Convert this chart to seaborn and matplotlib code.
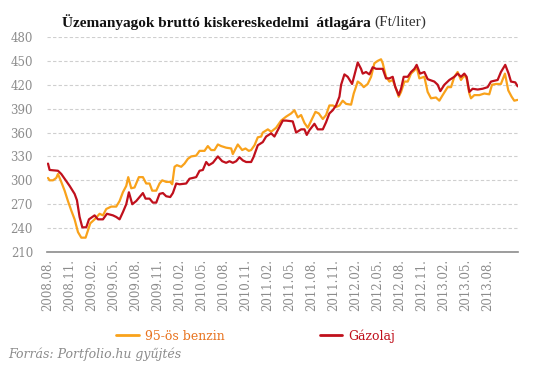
import matplotlib

matplotlib.use("Agg")
import matplotlib.pyplot as plt
import pandas as pd
import seaborn as sns

# x: months elapsed since 2008.08.
benzin_honap = [
    0.05, 0.27, 0.73, 1.18, 1.41, 1.86, 2.32, 2.77, 3.23, 3.68, 4.14, 4.59, 5.18, 5.5,
    5.82, 6.41, 7.09, 7.55, 8.0, 8.68, 9.36, 9.82, 10.27, 10.73, 11.0, 11.41, 11.86,
    12.45, 13.0, 13.45, 13.91, 14.27, 14.82, 15.27, 15.64, 16.18, 16.73, 17.0, 17.32,
    17.64, 18.23, 18.68, 19.14, 19.59, 20.27, 20.73, 21.41, 21.86, 22.32, 22.77, 23.23,
    23.68, 24.36, 25.05, 25.27, 25.95, 26.55, 27.0, 27.45, 27.77, 28.23, 28.68, 29.14,
    29.36, 30.05, 30.5, 31.18, 31.86, 32.55, 33.23, 33.68, 34.14, 34.59, 35.05, 35.5,
    36.18, 36.55, 37.0, 37.55, 38.0, 38.45, 38.91, 39.36, 39.82, 40.27, 40.73, 41.41,
    41.77, 42.32, 42.77, 43.14, 43.68, 44.14, 44.59, 45.05, 45.5, 45.73, 46.18, 46.64,
    47.09, 47.55, 47.91, 48.23, 48.68, 49.14, 49.59, 50.05, 50.36, 50.73, 51.41, 51.86,
    52.32, 53.0, 53.45, 53.91, 54.59, 55.05, 55.5, 55.95, 56.41, 56.86, 57.18, 57.55,
    57.77, 58.23, 58.91, 59.59, 60.27, 60.64, 61.18, 61.86, 62.41, 62.86, 63.32, 63.68,
    64.14,
]
benzin_ar = [
    303, 300, 300, 303, 308, 298, 287, 274, 262, 251, 235, 228, 228, 237,
    246, 251, 258, 256, 264, 267, 267, 274, 285, 293, 304, 290, 291,
    304, 304, 296, 296, 287, 287, 296, 300, 298, 298, 295, 317,
    319, 317, 321, 327, 330, 331, 337, 337, 343, 338, 338, 345,
    343, 341, 340, 333, 345, 338, 340, 337, 338, 344, 354, 355,
    360, 364, 361, 366, 375, 380, 384, 388, 379, 382, 372, 366,
    379, 386, 384, 377, 382, 394, 394, 392, 394, 400, 396, 395,
    409, 424, 421, 417, 421, 430, 447, 450, 452, 447, 430, 424,
    426, 415, 405, 411, 424, 424, 434, 438, 442, 428, 430, 411,
    403, 404, 400, 407, 417, 417, 430, 436, 426, 432, 428, 409,
    403, 407, 407, 409, 408, 420, 421, 421, 434, 413, 405, 400,
    401,
]

gazolaj_honap = [
    0.05, 0.27, 1.41, 1.86, 2.32, 3.0, 3.68, 4.0, 4.36, 4.73, 5.27, 5.64, 6.41, 6.86,
    7.55, 8.09, 8.91, 9.36, 9.82, 10.27, 10.73, 11.09, 11.55, 12.09, 12.55, 13.0,
    13.36, 13.91, 14.36, 14.82, 15.27, 15.73, 16.18, 16.73, 17.09, 17.55, 18.0, 18.91,
    19.36, 20.27, 20.73, 21.18, 21.64, 22.0, 22.55, 23.23, 23.82, 24.36, 24.82, 25.27,
    25.73, 26.18, 26.64, 27.09, 27.77, 28.09, 28.68, 29.36, 29.82, 30.5, 30.95, 31.41,
    32.09, 32.55, 33.45, 33.91, 34.59, 35.05, 35.36, 35.73, 36.41, 36.86, 37.55, 38.0,
    38.45, 38.91, 39.36, 39.82, 40.05, 40.5, 40.95, 41.55, 41.86, 42.32, 42.77, 43.0,
    43.45, 43.91, 44.36, 44.82, 45.73, 46.18, 46.64, 47.09, 47.45, 47.91, 48.23, 48.59,
    49.14, 49.59, 50.05, 50.36, 50.82, 51.41, 51.86, 52.77, 53.23, 53.59, 54.14, 54.82,
    55.5, 55.95, 56.41, 56.86, 57.18, 57.55, 58.0, 58.68, 59.36, 60.05, 60.5, 60.95,
    61.41, 61.86, 62.45, 62.91, 63.23, 63.82, 64.14,
]
gazolaj_ar = [
    321, 313, 312, 308, 302, 293, 283, 275, 254, 241, 241, 251, 256, 251,
    251, 258, 256, 254, 251, 260, 270, 285, 270, 274, 279, 284,
    277, 277, 272, 272, 283, 284, 280, 279, 284, 296, 295, 296,
    302, 304, 312, 313, 323, 319, 322, 330, 324, 322, 324, 322,
    324, 329, 325, 323, 323, 329, 344, 348, 355, 359, 355, 363,
    375, 375, 374, 360, 364, 364, 357, 363, 371, 364, 364, 373,
    384, 388, 394, 405, 420, 433, 430, 421, 432, 448, 440, 434,
    436, 433, 442, 440, 440, 428, 428, 430, 417, 407, 415, 430,
    430, 436, 440, 445, 434, 436, 427, 424, 420, 412, 420, 426,
    430, 434, 430, 434, 430, 411, 415, 414, 415, 417, 424, 425,
    426, 436, 445, 434, 424, 423, 418,
]

tick_honap = list(range(0, 61, 3))
tick_cimkek = [
    "2008.08.", "2008.11.", "2009.02.", "2009.05.", "2009.08.", "2009.11.",
    "2010.02.", "2010.05.", "2010.08.", "2010.11.", "2011.02.", "2011.05.",
    "2011.08.", "2011.11.", "2012.02.", "2012.05.", "2012.08.", "2012.11.",
    "2013.02.", "2013.05.", "2013.08.",
]
y_tickek = list(range(210, 481, 30))

NARANCS = "#F9A21B"
PIROS = "#C0101C"
SZURKE = "#8C8C8C"
SERIF = ["DejaVu Serif"]

sns.set_style("white")
plt.rcParams["font.family"] = SERIF

df = pd.concat(
    [
        pd.DataFrame({"honap": benzin_honap, "ar": benzin_ar, "tipus": "95-ös benzin"}),
        pd.DataFrame({"honap": gazolaj_honap, "ar": gazolaj_ar, "tipus": "Gázolaj"}),
    ]
)

fig = plt.figure(figsize=(5.33, 3.72), dpi=100)
ax = fig.add_axes([0.088, 0.3226, 0.884, 0.578])

sns.lineplot(
    data=df,
    x="honap",
    y="ar",
    hue="tipus",
    palette={"95-ös benzin": NARANCS, "Gázolaj": PIROS},
    linewidth=1.6,
    ax=ax,
    legend=False,
)

ax.set_xlim(-0.1, 64.2)
ax.set_ylim(210, 480)
ax.set_yticks(y_tickek)
ax.set_xticks(tick_honap)
ax.set_xticklabels(tick_cimkek, rotation=90)
ax.tick_params(axis="both", length=0, colors=SZURKE, labelsize=8.5)
ax.tick_params(axis="y", pad=10)
ax.tick_params(axis="x", pad=5)
ax.set_xlabel("")
ax.set_ylabel("")
ax.yaxis.grid(True, color="#CFCFCF", linestyle=(0, (3, 2)), linewidth=0.8)
ax.xaxis.grid(False)
for side in ["left", "right", "top"]:
    ax.spines[side].set_visible(False)
ax.spines["bottom"].set_color("#8C8C8C")
ax.spines["bottom"].set_linewidth(1.2)

# title: bold part + normal unit part
cim = fig.text(0.116, 0.94, "Üzemanyagok bruttó kiskereskedelmi  átlagára",
               fontsize=11, fontweight="bold", va="center", ha="left",
               color="#111111", family=["Liberation Serif"])
renderer = fig.canvas.get_renderer()
bb = cim.get_window_extent(renderer=renderer)
fig.text(bb.x1 / fig.bbox.width + 0.008, 0.94, "(Ft/liter)", fontsize=11,
         va="center", ha="left", color="#333333", family=["Liberation Serif"])

# legend
handles = [
    plt.Line2D([], [], color=NARANCS, linewidth=2),
    plt.Line2D([], [], color=PIROS, linewidth=2),
]
leg = fig.legend(
    handles, ["95-ös benzin", "Gázolaj"],
    loc="center left", bbox_to_anchor=(0.218, 0.097), ncol=2, frameon=False,
    fontsize=9, handlelength=1.8, handletextpad=0.5, columnspacing=7.6,
    borderpad=0, borderaxespad=0,
)
for txt, szin in zip(leg.get_texts(), ["#E8731E", PIROS]):
    txt.set_color(szin)

fig.text(0.015, 0.048, "Forrás: Portfolio.hu gyűjtés", fontsize=9,
         style="italic", color=SZURKE, va="center", ha="left")

fig.savefig("out.png", dpi=100)
